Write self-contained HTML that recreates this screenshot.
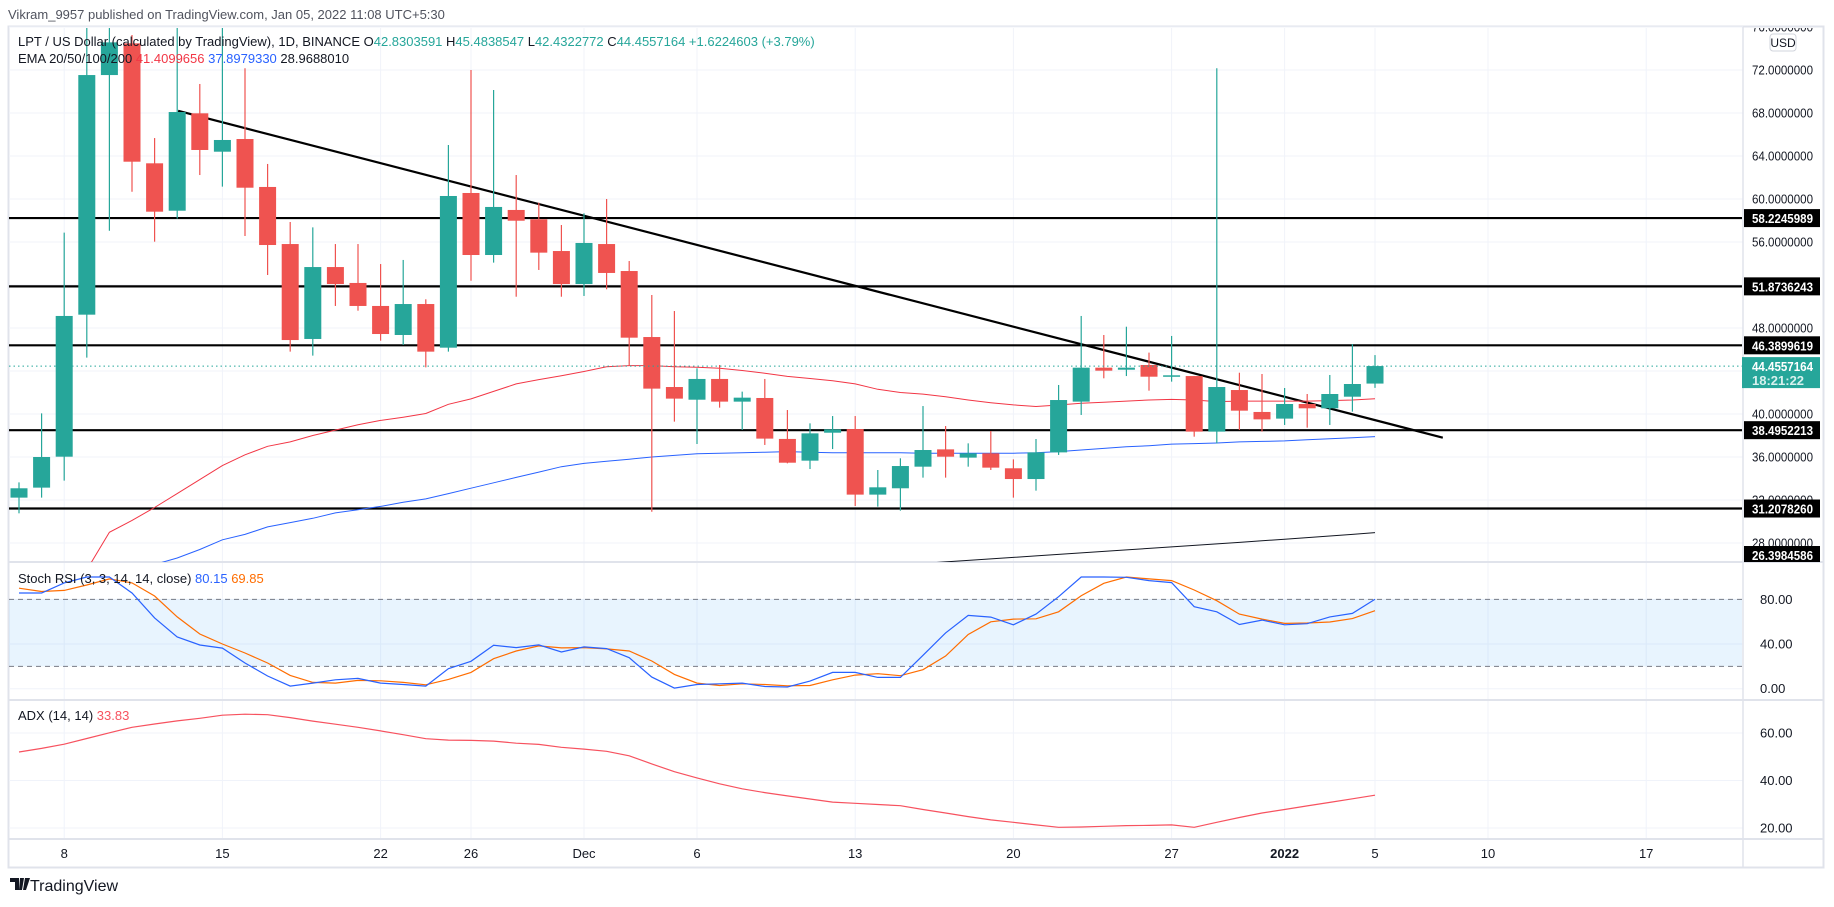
<!DOCTYPE html>
<html><head><meta charset="utf-8">
<style>
html,body{margin:0;padding:0;background:#fff;}
body{width:1834px;height:902px;overflow:hidden;font-family:"Liberation Sans",sans-serif;}
svg text{font-family:"Liberation Sans",sans-serif;}
</style></head>
<body>
<svg id="chart" width="1834" height="902" xmlns="http://www.w3.org/2000/svg">
<defs>
<clipPath id="mainClip"><rect x="9" y="28" width="1733" height="534"/></clipPath>
<clipPath id="stochClip"><rect x="9" y="563" width="1733" height="136"/></clipPath>
<clipPath id="adxClip"><rect x="9" y="701" width="1733" height="137"/></clipPath>
<clipPath id="axisClip"><rect x="1744" y="28" width="80" height="534"/></clipPath>
</defs>
<text x="8" y="19" font-size="13" fill="#50535e">Vikram_9957 published on TradingView.com, Jan 05, 2022 11:08 UTC+5:30</text>
<rect x="8.5" y="26.5" width="1815" height="841" fill="none" stroke="#e0e3eb" stroke-width="2"/>
<g id="grid"></g>
<g id="main" clip-path="url(#mainClip)"></g>
<g id="stoch" clip-path="url(#stochClip)"></g>
<g id="adx" clip-path="url(#adxClip)"></g>
<g id="axes"></g>
<g id="legend"></g>
</svg>
<script>
const NS="http://www.w3.org/2000/svg";
const opens=[32.22,33.15,36.03,49.24,71.53,74.48,63.32,58.91,67.97,64.40,65.58,61.12,55.81,46.98,53.67,52.19,50.05,47.35,50.23,46.17,60.56,54.79,58.98,58.11,55.16,52.09,55.81,53.30,47.16,42.51,41.33,43.26,41.15,41.49,37.68,35.66,38.26,38.60,32.50,33.09,35.10,36.71,35.94,36.34,34.95,33.95,36.43,41.15,44.31,44.12,44.56,43.47,43.53,38.36,42.23,40.19,39.57,40.93,40.53,41.61,42.83];
const highs=[33.64,40.06,56.87,78,78,75.26,65.67,76.5,70.70,76.5,72.16,63.26,57.86,57.36,55.81,55.81,53.95,54.33,50.67,65.02,72.0,70.14,62.23,59.66,57.58,58.67,60.0,54.23,51.07,49.58,44.25,44.56,42.08,43.26,40.37,39.13,39.81,39.81,34.79,35.88,40.74,38.88,37.27,38.42,35.78,37.67,42.70,49.12,47.35,48.12,45.71,47.26,43.53,72.16,43.84,43.72,42.42,41.86,43.63,46.51,45.48];
const lows=[30.76,32.22,33.8,45.24,57.05,60.68,56.03,58.17,62.23,61.15,56.56,52.93,45.80,45.43,50.05,49.61,46.82,46.42,44.34,45.80,52.40,54.08,50.91,53.40,50.91,50.98,51.60,44.47,30.91,39.29,37.21,40.59,38.51,37.12,35.41,34.88,36.74,31.44,31.38,31.01,34.08,34.08,35.10,34.79,32.22,32.87,36.19,39.91,43.32,43.53,42.17,43.01,37.89,37.27,38.51,38.36,38.98,38.73,38.98,40.22,42.43];
const closes=[33.09,36.0,49.12,71.53,74.57,63.47,58.82,68.09,64.56,65.49,61.05,55.72,46.88,53.67,52.09,50.05,47.44,50.23,45.80,60.28,54.79,59.26,57.98,55.01,52.09,55.91,53.12,47.10,42.36,41.43,43.26,41.15,41.52,37.71,35.47,38.20,38.57,32.50,33.18,35.16,36.65,36.03,36.34,35.01,33.95,36.43,41.30,44.31,44.03,44.31,43.47,43.60,38.36,42.51,40.31,39.50,40.93,40.53,41.86,42.79,44.46];
const ema20=[null,null,null,25.5,29.0,30.1,31.3,32.6,33.9,35.2,36.2,37.0,37.4,38.0,38.5,39.0,39.4,39.7,40.05,40.9,41.4,42.1,42.8,43.2,43.55,43.95,44.4,44.5,44.5,44.4,44.35,44.25,44.05,43.8,43.5,43.3,43.1,42.8,42.3,42.0,41.85,41.6,41.3,41.05,40.85,40.7,40.84,41.0,41.1,41.2,41.3,41.36,41.3,41.15,41.2,41.2,41.2,41.2,41.25,41.3,41.41];
const ema50=[null,null,null,null,null,24.8,26.0,26.6,27.4,28.3,28.8,29.5,29.9,30.3,30.8,31.1,31.4,31.8,32.1,32.6,33.1,33.6,34.1,34.6,35.1,35.4,35.6,35.8,36.0,36.15,36.3,36.35,36.4,36.45,36.5,36.45,36.4,36.4,36.4,36.4,36.35,36.35,36.35,36.35,36.35,36.4,36.5,36.65,36.8,36.95,37.05,37.2,37.25,37.3,37.4,37.45,37.5,37.6,37.7,37.8,37.9];
const ema200=[null,null,null,null,null,null,null,null,null,null,null,null,null,null,null,null,null,null,null,null,null,null,null,null,null,null,null,null,null,null,null,null,null,null,null,null,null,null,null,null,26.10,26.24,26.38,26.52,26.66,26.80,26.94,27.08,27.22,27.36,27.50,27.64,27.78,27.92,28.06,28.2,28.35,28.5,28.65,28.8,28.97];
const stochK=[85.7,85.7,94.7,100,100,85.7,63.4,46.3,39.1,36.4,23,11.4,2.3,5,8,9.2,5,3.8,2.3,17.9,24.5,38.9,36.8,39.2,32.9,37.4,35.9,27.8,10.4,0.5,3.8,4.4,5,2,1.5,6.8,14.6,14.6,10.1,10.1,29.9,50,65.6,64.1,57.2,66.8,82.4,100,100,99.8,96.8,95,73.4,68.9,57.5,61.4,57.2,58.2,64.3,67.4,80.15];
const stochD=[90,87,88,92.9,98.3,94.7,83,64.3,49,40,32,23,11.9,5.6,5,7.4,7.1,5.6,3.5,8.3,14.6,26.9,33.8,38.3,36.5,36.8,35.6,33.8,24.8,12.8,5,2.9,4.4,3.8,2.6,2.9,8,12.2,13.4,11.6,17,29.3,48.5,59.9,62.3,62.6,68.9,83.3,94.4,100,98.3,96.8,88.4,78.8,66.8,62.3,58.5,58.8,59.7,62.8,69.85];
const adxVals=[52,53.5,55.3,57.7,60.1,62.4,63.8,65.1,66.2,67.5,67.9,67.7,66.5,65,63.7,62.4,60.9,59.3,57.6,57.0,56.9,56.6,55.7,55.2,54,53.2,52.3,50.4,47,43.7,41.1,38.6,36.5,34.9,33.5,32.2,30.9,30.4,29.9,29.4,27.8,26.3,24.8,23.4,22.4,21.3,20.3,20.4,20.7,21,21.1,21.3,20.3,22.4,24.4,26.3,27.8,29.3,30.8,32.3,33.83];
const levels=[58.2245989,51.8736243,46.3899619,38.4952213,31.2078260];
const levelLabels=["58.2245989","51.8736243","46.3899619","38.4952213","31.2078260"];
const trendIdx=[7.04,63.0];
const trendVals=[68.2,37.8];
const priceTicks=[28,32,36,40,44,48,52,56,60,64,68,72,76];
const stochTicks=[0,40,80];
const adxTicks=[20,40,60];
const dateTickIdx=[2,9,16,20,25,30,37,44,51,56,60,65,72];
const dateTickLabels=["8","15","22","26","Dec","6","13","20","27","2022","5","10","17"];
const lastPrice=44.4557164;

const xI=i=>19+22.6*i;
const yP=v=>70+(72-v)*10.75;
const yS=v=>688.7-v*1.1167;
const yA=v=>733+(60-v)*2.375;
const GREEN="#26a69a",RED="#ef5350";
function mk(tag,attrs,parent){const e=document.createElementNS(NS,tag);for(const k in attrs)e.setAttribute(k,attrs[k]);parent.appendChild(e);return e;}
const grid=document.getElementById('grid'),main=document.getElementById('main'),st=document.getElementById('stoch'),ad=document.getElementById('adx'),axes=document.getElementById('axes'),legend=document.getElementById('legend');

priceTicks.forEach(v=>{const l=mk('line',{x1:9,x2:1743,y1:yP(v),y2:yP(v),stroke:'#f0f3fa','stroke-width':1},grid);

});
stochTicks.forEach(v=>{const l=mk('line',{x1:9,x2:1743,y1:yS(v),y2:yS(v),stroke:'#f0f3fa'},grid);

});
adxTicks.forEach(v=>{const l=mk('line',{x1:9,x2:1743,y1:yA(v),y2:yA(v),stroke:'#f0f3fa'},grid);

});
dateTickIdx.forEach(i=>{const l=mk('line',{x1:xI(i),x2:xI(i),y1:28,y2:838,stroke:'#f0f3fa'},grid);

});
[[562],[700],[839]].forEach(a=>{const l=mk('line',{x1:9,x2:1823,y1:a[0],y2:a[0],stroke:'#e0e3eb','stroke-width':2},grid);

});
const vs=mk('line',{x1:1743,x2:1743,y1:27,y2:867,stroke:'#e0e3eb','stroke-width':1.5},grid);



levels.forEach((v,k)=>{const l=mk('line',{x1:9,x2:1743,y1:yP(v),y2:yP(v),stroke:'#000','stroke-width':2.2},main);

});
const tl=mk('line',{x1:xI(trendIdx[0]),y1:yP(trendVals[0]),x2:xI(trendIdx[1]),y2:yP(trendVals[1]),stroke:'#000','stroke-width':2.2},main);



function path(arr,yf){let d='';let started=false;arr.forEach((v,i)=>{if(v===null||v===undefined)return;d+=(started?'L':'M')+xI(i).toFixed(1)+','+yf(v).toFixed(1);started=true;});return d;}
const e200=mk('path',{d:path(ema200,yP),fill:'none',stroke:'#131722','stroke-width':1},main);


const e50=mk('path',{d:path(ema50,yP),fill:'none',stroke:'#2962ff','stroke-width':1},main);


const e20=mk('path',{d:path(ema20,yP),fill:'none',stroke:'#f23645','stroke-width':1},main);



opens.forEach((o,i)=>{const c=closes[i],h=highs[i],lo=lows[i];const col=c>=o?GREEN:RED;const x=xI(i);
const g=mk('g',{},main);


mk('line',{x1:x,x2:x,y1:yP(h),y2:yP(lo),stroke:col,'stroke-width':1.2},g);
const top=yP(Math.max(o,c)),bot=yP(Math.min(o,c));
mk('rect',{x:x-8.5,y:top,width:17,height:Math.max(1.5,bot-top),fill:col},g);});

const lp=mk('line',{x1:9,x2:1743,y1:yP(lastPrice),y2:yP(lastPrice),stroke:GREEN,'stroke-width':1,'stroke-dasharray':'1.5,3'},main);



const band=mk('rect',{x:9,y:yS(80),width:1734,height:yS(20)-yS(80),fill:'#2196f3','fill-opacity':0.1},st);


[80,20].forEach(v=>{const l=mk('line',{x1:9,x2:1743,y1:yS(v),y2:yS(v),stroke:'#787b86','stroke-dasharray':'5,4'},st);

});
const sd=mk('path',{d:path(stochD,yS),fill:'none',stroke:'#ff6d00','stroke-width':1.2},st);


const sk=mk('path',{d:path(stochK,yS),fill:'none',stroke:'#2962ff','stroke-width':1.2},st);


const al=mk('path',{d:path(adxVals,yA),fill:'none',stroke:'#f7525f','stroke-width':1.2},ad);



const pax=mk('g',{'clip-path':'url(#axisClip)'},axes);
priceTicks.forEach(v=>{const t=mk('text',{x:1752,y:yP(v)+4.5,'font-size':13,fill:'#131722',textLength:61,lengthAdjust:'spacingAndGlyphs'},pax);t.textContent=v.toFixed(7);

});
const usd=mk('g',{},pax);


mk('rect',{x:1770,y:34,width:26,height:17,rx:3,fill:'#fff',stroke:'#d1d4dc'},usd);
const ut=mk('text',{x:1783,y:47,'font-size':12,fill:'#131722','text-anchor':'middle'},usd);ut.textContent='USD';
function box(y,txt,fill,name){const g=mk('g',{},pax);


mk('rect',{x:1742,y:y-9,width:78,height:18,fill:fill},g);const t=mk('text',{x:1752,y:y+5,'font-size':13,'font-weight':'bold',fill:'#fff',textLength:61,lengthAdjust:'spacingAndGlyphs'},g);t.textContent=txt;}
levels.forEach((v,k)=>box(yP(v),levelLabels[k],'#000','level-price-label'));
box(555,'26.3984586','#000','ema-price-label');
const lg=mk('g',{},axes);


mk('rect',{x:1742,y:yP(lastPrice)-9,width:78,height:31,fill:GREEN},lg);
const lt1=mk('text',{x:1752,y:yP(lastPrice)+5,'font-size':13,'font-weight':'bold',fill:'#fff',textLength:61,lengthAdjust:'spacingAndGlyphs'},lg);lt1.textContent='44.4557164';
const lt2=mk('text',{x:1752,y:yP(lastPrice)+19,'font-size':13,'font-weight':'bold',fill:'#d8f1ee'},lg);lt2.textContent='18:21:22';
stochTicks.forEach(v=>{const t=mk('text',{x:1760,y:yS(v)+4.5,'font-size':13,fill:'#131722'},axes);t.textContent=v.toFixed(2);

});
adxTicks.forEach(v=>{const t=mk('text',{x:1760,y:yA(v)+4.5,'font-size':13,fill:'#131722'},axes);t.textContent=v.toFixed(2);

});
dateTickIdx.forEach((i,k)=>{const t=mk('text',{x:xI(i),y:858,'font-size':13,fill:'#131722','text-anchor':'middle','font-weight':dateTickLabels[k]==='2022'?'bold':'normal'},axes);t.textContent=dateTickLabels[k];

});

function txt(parts,y,name){const t=mk('text',{x:18,y:y,'font-size':13,fill:'#131722','xml:space':'preserve'},legend);


parts.forEach(p=>{const s=mk('tspan',{fill:p[1]},t);s.textContent=p[0];});}
txt([['LPT / US Dollar (calculated by TradingView), 1D, BINANCE   ','#131722'],['O','#131722'],['42.8303591   ',GREEN],['H','#131722'],['45.4838547   ',GREEN],['L','#131722'],['42.4322772   ',GREEN],['C','#131722'],['44.4557164   +1.6224603 (+3.79%)',GREEN]],46,'symbol-legend');
txt([['EMA 20/50/100/200  ','#131722'],['41.4099656  ','#f23645'],['37.8979330  ','#2962ff'],['28.9688010','#131722']],63,'ema-legend');
txt([['Stoch RSI (3, 3, 14, 14, close)  ','#131722'],['80.15  ','#2962ff'],['69.85','#ff6d00']],583,'stoch-legend');
txt([['ADX (14, 14)  ','#131722'],['33.83','#f7525f']],720,'adx-legend');

const lgo=mk('g',{},legend);


mk('path',{d:'M10 878h9v12h-4v-8h-5z M20 878h4l-2 12h-3z M25 878h5l-4 12h-3z',fill:'#131722'},lgo);
const lt=mk('text',{x:30,y:891,'font-size':16,fill:'#131722'},lgo);lt.textContent='TradingView';
</script>
</body></html>
